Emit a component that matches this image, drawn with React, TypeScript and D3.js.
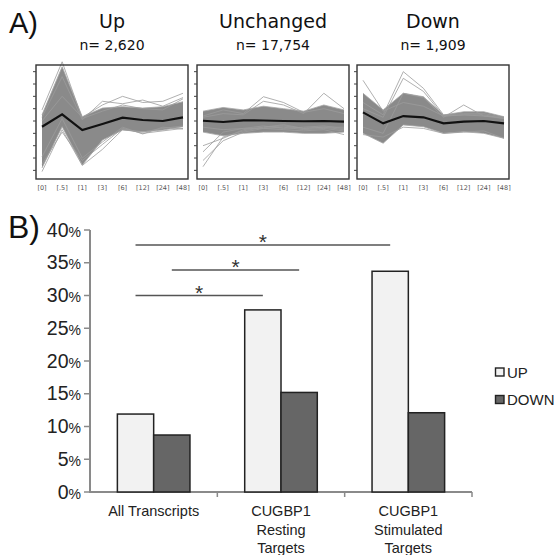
import React, { useEffect, useRef } from "react";
import * as d3 from "d3";

// ---- panel A: expression clusters ----
const timepoints = ["[0]", "[.5]", "[1]", "[3]", "[6]", "[12]", "[24]", "[48]"];
const clusterNames = ["Up", "Unchanged", "Down"];
const clusterCounts = ["n= 2,620", "n= 17,754", "n= 1,909"];

// dense envelope of the profiles (log-ratio units) and cluster mean
const upUpper = [0.5, 4.4, 0.35, 1.05, 1.16, 1.05, 1.16, 1.57];
const upLower = [-3.8, -0.46, -3.57, -1.54, -0.73, -0.87, -0.73, -0.46];
const upMean = [-0.46, 0.54, -0.73, -0.24, 0.27, 0.08, 0.0, 0.3];
const upOutliers = [
  [0.9, 4.8, 0.2, 0.8, 1.3, 1.0, 0.9, 1.8],
  [0.0, 2.0, 0.3, 1.3, 2.0, 1.5, 1.6, 2.25],
  [-4.1, -0.7, -3.6, -2.3, -0.7, -0.9, -0.6, -0.4],
  [-3.5, -0.9, -3.2, -1.9, -0.6, -1.0, -0.8, -0.6],
  [0.3, 3.6, 0.1, 1.6, 1.4, 1.7, 1.2, 1.9],
  [-2.9, 0.2, -3.0, -1.7, -0.5, -1.05, -0.5, -0.65],
];

const unchUpper = [0.8, 1.1, 0.9, 1.2, 1.0, 0.8, 1.3, 0.9];
const unchLower = [-0.9, -1.2, -1.0, -0.9, -0.9, -1.0, -1.0, -0.9];
const unchMean = [0.02, -0.08, 0.05, 0.04, 0.0, -0.02, 0.0, -0.05];
const unchOutliers = [
  [-3.7, -1.3, -0.8, -0.5, -0.4, -0.6, -0.5, -0.7],
  [-3.2, -1.6, -0.9, -0.6, -0.5, -0.7, -0.6, -0.8],
  [-2.5, -0.9, -0.6, -0.4, -0.6, -0.5, -0.4, -0.6],
  [-2.0, -1.4, -0.7, -0.5, -0.3, -0.6, -0.5, -0.5],
  [0.4, 0.9, 0.6, 1.97, 1.5, 0.7, 1.0, 0.6],
  [0.3, 0.6, 0.5, 1.6, 1.3, 0.6, 2.25, 1.0],
  [-0.5, -0.7, -0.6, -0.6, -0.7, -0.8, -0.7, -1.1],
];

const downUpper = [2.25, 0.9, 2.25, 1.97, 0.49, 0.75, 0.75, 0.35];
const downLower = [-1.0, -1.8, -0.32, -0.46, -1.0, -0.87, -1.0, -1.4];
const downMean = [0.7, -0.19, 0.4, 0.3, -0.19, -0.05, 0.0, -0.19];
const downOutliers = [
  [3.3, 0.8, 1.5, 1.2, 0.4, 0.5, 0.4, 0.2],
  [1.5, 0.5, 4.0, 2.65, 0.5, 0.6, 0.6, 0.3],
  [1.0, 0.3, 3.46, 2.4, 0.4, 0.5, 0.5, 0.2],
  [-0.5, -1.0, 2.25, 1.9, 0.3, 1.3, 0.4, 0.3],
  [-1.1, -1.3, -0.5, -0.6, -1.0, -0.9, -0.8, -1.4],
];

const panelUppers = [upUpper, unchUpper, downUpper];
const panelLowers = [upLower, unchLower, downLower];
const panelMeans = [upMean, unchMean, downMean];
const panelOutliers = [upOutliers, unchOutliers, downOutliers];
const panelTicks = [-4, -3, -2, -1, 0, 1, 2, 3, 4];

// ---- panel B: bar chart ----
const categories = ["All Transcripts", "CUGBP1|Resting|Targets", "CUGBP1|Stimulated|Targets"];
const seriesKeys = ["UP", "DOWN"];
const upValues = [11.9, 27.8, 33.7];
const downValues = [8.7, 15.2, 12.1];
const yTicks = [0, 5, 10, 15, 20, 25, 30, 35, 40];

// significance brackets: [category, series] -> [category, series] at y %
const sigFrom = [[0, 0], [0, 1], [0, 0]];
const sigTo = [[2, 0], [1, 1], [1, 0]];
const sigLevel = [37.7, 33.9, 30.0];

const seriesFill: Record<string, string> = { UP: "#f2f2f2", DOWN: "#666666" };

export default function App() {
  const ref = useRef<SVGSVGElement>(null);

  useEffect(() => {
    const svg = d3.select(ref.current);
    svg.selectAll("*").remove();
    const font = "'Liberation Sans', Arial, sans-serif";
    const dejavu = "'DejaVu Sans', sans-serif";

    // ================= A =================
    svg.append("text").attr("x", 9).attr("y", 33)
      .style("font-family", font)
      .style("font-size", "29px").attr("fill", "#111").text("A)");

    const panelX = [36, 197, 357];
    const panelW = 152;
    const top = 65, bottom = 179;
    const y = d3.scaleLinear().domain([-4.7, 4.54]).range([bottom, top]);

    panelX.forEach((x0, p) => {
      const x = d3.scalePoint().domain(timepoints).range([x0 + 6, x0 + panelW - 5]);
      const g = svg.append("g");
      const cx = x0 + panelW / 2;

      g.append("text").attr("x", cx).attr("y", 28).attr("text-anchor", "middle")
        .style("font-family", dejavu).style("font-size", "19px")
        .attr("fill", "#111").text(clusterNames[p]);
      g.append("text").attr("x", cx).attr("y", 50).attr("text-anchor", "middle")
        .style("font-family", dejavu).style("font-size", "14px")
        .attr("fill", "#111").text(clusterCounts[p]);

      const area = d3.area<number>()
        .x((_, i) => x(timepoints[i])!)
        .y0((_, i) => y(panelLowers[p][i]))
        .y1((d) => y(d));
      g.append("path").attr("d", area(panelUppers[p])).attr("fill", "#8a8a8a");

      const line = d3.line<number>().x((_, i) => x(timepoints[i])!).y((d) => y(d));
      // envelope edges and outlying profiles in thin light grey
      [panelUppers[p], panelLowers[p]].forEach((s) =>
        g.append("path").attr("d", line(s)).attr("fill", "none")
          .attr("stroke", "#a6a6a6").attr("stroke-width", 0.8));
      panelOutliers[p].forEach((s) =>
        g.append("path").attr("d", line(s)).attr("fill", "none")
          .attr("stroke", "#9c9c9c").attr("stroke-width", 0.8));

      g.append("path").attr("d", line(panelMeans[p])).attr("fill", "none")
        .attr("stroke", "#111").attr("stroke-width", 2.2);

      g.append("rect").attr("x", x0).attr("y", top).attr("width", panelW)
        .attr("height", bottom - top).attr("fill", "none")
        .attr("stroke", "#333").attr("stroke-width", 1.4);

      g.selectAll(".tk").data(panelTicks).enter().append("line")
        .attr("x1", x0 - 3).attr("x2", x0)
        .attr("y1", (d) => y(d)).attr("y2", (d) => y(d))
        .attr("stroke", "#444").attr("stroke-width", 1);

      g.selectAll(".tl").data(timepoints).enter().append("text")
        .attr("x", (d) => x(d)!).attr("y", 190).attr("text-anchor", "middle")
        .style("font-family", dejavu).style("font-size", "6.5px")
        .attr("fill", "#555").text((d) => d);
    });

    // ================= B =================
    svg.append("text").attr("x", 8).attr("y", 238)
      .style("font-family", font).style("font-size", "32px").attr("fill", "#111").text("B)");

    const axisX = 90, axisRight = 472;
    const yB = d3.scaleLinear().domain([0, 40]).range([492, 230]);
    const xB = d3.scaleBand().domain(categories).range([axisX, axisRight])
      .paddingInner(0.43).paddingOuter(0.215);
    const xS = d3.scaleBand().domain(seriesKeys).range([0, xB.bandwidth()]);
    const barCenter = (c: number, s: number) =>
      xB(categories[c])! + xS(seriesKeys[s])! + xS.bandwidth() / 2;

    const axes = svg.append("g");
    axes.append("line").attr("x1", axisX).attr("x2", axisX).attr("y1", yB(40)).attr("y2", yB(0) + 1)
      .attr("stroke", "#8a8a8a").attr("stroke-width", 2);
    axes.append("line").attr("x1", axisX - 1).attr("x2", axisRight).attr("y1", yB(0)).attr("y2", yB(0))
      .attr("stroke", "#8a8a8a").attr("stroke-width", 2);

    const step = xB.step();
    categories.forEach((_, i) => {
      const bx = xB(categories[i])! - (step - xB.bandwidth()) / 2 + step;
      axes.append("line").attr("x1", bx).attr("x2", bx).attr("y1", yB(0)).attr("y2", yB(0) + 5)
        .attr("stroke", "#8a8a8a").attr("stroke-width", 1.5);
    });

    yTicks.forEach((t) => {
      axes.append("line").attr("x1", axisX - 6).attr("x2", axisX)
        .attr("y1", yB(t)).attr("y2", yB(t)).attr("stroke", "#8a8a8a").attr("stroke-width", 1.5);
      const tx = axes.append("text").attr("x", axisX - 9).attr("y", yB(t) + 6.5)
        .attr("text-anchor", "end").style("font-family", font).attr("fill", "#222");
      tx.append("tspan").style("font-size", "19.5px").text(String(t));
      tx.append("tspan").style("font-size", "14px").text("%");
    });

    const bars = svg.append("g");
    [upValues, downValues].forEach((vals, s) => {
      bars.selectAll(".b" + s).data(vals).enter().append("rect")
        .attr("x", (_, i) => xB(categories[i])! + xS(seriesKeys[s])!)
        .attr("y", (d) => yB(d))
        .attr("width", xS.bandwidth())
        .attr("height", (d) => yB(0) - yB(d))
        .attr("fill", seriesFill[seriesKeys[s]])
        .attr("stroke", "#222").attr("stroke-width", 1.5);
    });

    categories.forEach((c) => {
      const t = svg.append("text").attr("x", xB(c)! + xB.bandwidth() / 2).attr("y", 516)
        .attr("text-anchor", "middle").style("font-family", font).style("font-size", "14.5px")
        .attr("fill", "#222");
      c.split("|").forEach((part, k) =>
        t.append("tspan").attr("x", xB(c)! + xB.bandwidth() / 2).attr("dy", k === 0 ? 0 : 18.5).text(part));
    });

    sigLevel.forEach((lv, k) => {
      const x1 = barCenter(sigFrom[k][0], sigFrom[k][1]);
      const x2 = barCenter(sigTo[k][0], sigTo[k][1]);
      svg.append("line").attr("x1", x1).attr("x2", x2).attr("y1", yB(lv)).attr("y2", yB(lv))
        .attr("stroke", "#555").attr("stroke-width", 1.4);
      svg.append("text").attr("x", (x1 + x2) / 2).attr("y", yB(lv) + 4).attr("text-anchor", "middle")
        .style("font-family", font).style("font-size", "21px").attr("fill", "#333").text("*");
    });

    const legend = svg.append("g");
    seriesKeys.forEach((k, i) => {
      const ly = 368 + i * 27.5;
      legend.append("rect").attr("x", 495.5).attr("y", ly).attr("width", 8.5).attr("height", 8)
        .attr("fill", seriesFill[k]).attr("stroke", "#222").attr("stroke-width", 1.4);
      legend.append("text").attr("x", 507).attr("y", ly + 9.5)
        .style("font-family", font).style("font-size", "15px").attr("fill", "#222").text(k);
    });
  }, []);

  return (
    <svg ref={ref} width={556} height={555}
      style={{ position: "absolute", left: 0, top: 0, background: "#fff" }} />
  );
}
